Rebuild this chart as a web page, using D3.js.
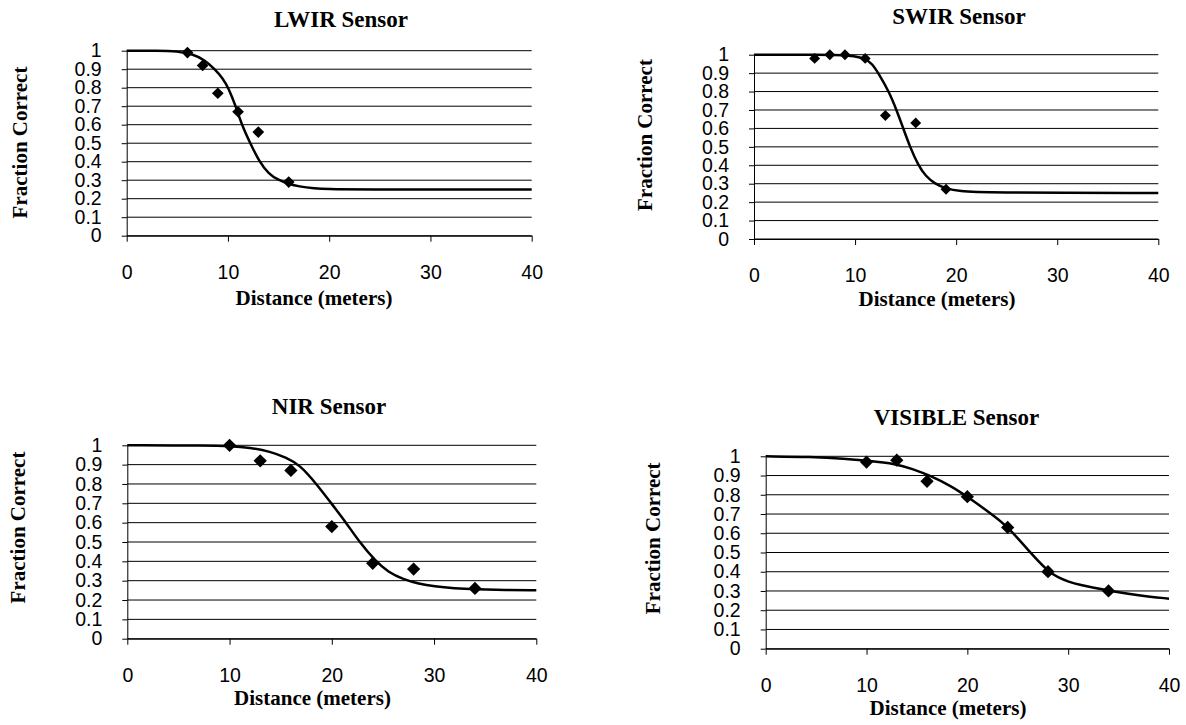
<!DOCTYPE html>
<html>
<head>
<meta charset="utf-8">
<script src="https://cdn.jsdelivr.net/npm/d3@7"></script>
<style>
  body { margin: 0; background: #fff; }
  text { fill: #000; }
</style>
</head>
<body>
<svg id="chart" width="1186" height="725"></svg>
<script>
// ---- data ----
const xTicks = [0, 10, 20, 30, 40];
const yTicks = [0, 0.1, 0.2, 0.3, 0.4, 0.5, 0.6, 0.7, 0.8, 0.9, 1];
const yTickLabels = ['0', '0.1', '0.2', '0.3', '0.4', '0.5', '0.6', '0.7', '0.8', '0.9', '1'];

const titles = ['LWIR Sensor', 'SWIR Sensor', 'NIR Sensor', 'VISIBLE Sensor'];
const xTitle = 'Distance (meters)';
const yTitle = 'Fraction Correct';

// measured points
const lwirX = [6, 7.5, 9, 11, 13, 16];
const lwirY = [0.99, 0.92, 0.77, 0.67, 0.56, 0.29];
const swirX = [6, 7.5, 9, 11, 13, 16, 19];
const swirY = [0.98, 1.0, 1.0, 0.98, 0.67, 0.63, 0.27];
const nirX = [10, 13, 16, 20, 24, 28, 34];
const nirY = [1.0, 0.92, 0.87, 0.58, 0.39, 0.36, 0.26];
const visX = [10, 13, 16, 20, 24, 28, 34];
const visY = [0.97, 0.98, 0.87, 0.79, 0.63, 0.40, 0.30];

// fitted curves
const lwirFitX = [0, 3, 5, 6.5, 7.7, 8.7, 9.5, 10.04, 10.77, 11.36, 12.2, 13.1, 14, 15, 16, 17, 18.5, 20, 22, 40];
const lwirFitY = [1.0, 1.0, 0.997, 0.982, 0.95, 0.9, 0.85, 0.8, 0.7, 0.6, 0.5, 0.4, 0.335, 0.30, 0.28, 0.266, 0.256, 0.252, 0.25, 0.25];
const swirFitX = [0, 7, 9, 9.8, 11, 11.7, 12.3, 13.35, 14.1, 14.77, 15.43, 16.25, 17, 17.9, 19, 20.4, 22.4, 40];
const swirFitY = [1.0, 1.0, 0.998, 0.993, 0.98, 0.95, 0.9, 0.8, 0.7, 0.6, 0.5, 0.4, 0.34, 0.3, 0.272, 0.259, 0.251, 0.25];
const nirFitX = [0, 8, 10, 12, 14, 15.5, 16.85, 18.5, 19.95, 21.4, 22.7, 24.3, 25.5, 27, 28.5, 30, 32, 34, 37, 40];
const nirFitY = [1.0, 0.999, 0.996, 0.988, 0.968, 0.937, 0.9, 0.8, 0.7, 0.6, 0.5, 0.4, 0.345, 0.307, 0.284, 0.27, 0.26, 0.255, 0.251, 0.25];
const visFitX = [0, 4.5, 7.9, 10, 13, 14.5, 16.3, 18.4, 20, 22.4, 24, 26, 28, 29, 30, 31.3, 32.5, 34, 37, 40];
const visFitY = [1.0, 0.997, 0.988, 0.978, 0.96, 0.935, 0.9, 0.845, 0.79, 0.7, 0.635, 0.514, 0.401, 0.37, 0.348, 0.33, 0.317, 0.302, 0.277, 0.26];

// ---- layout of the four panels ----
const panels = [
  { title: titles[0], px: lwirX, py: lwirY, fx: lwirFitX, fy: lwirFitY,
    left: 126.7, right: 531.7, top: 50.7, bottom: 235.7, mark: 69,
    titleX: 341, titleY: 27, xLabX: 314, xLabY: 305, yLabX: 26.5, yLabY: 142.5 },
  { title: titles[1], px: swirX, py: swirY, fx: swirFitX, fy: swirFitY,
    left: 754, right: 1158.3, top: 54.7, bottom: 239, mark: 60,
    titleX: 959, titleY: 24, xLabX: 937, xLabY: 306, yLabX: 652, yLabY: 135 },
  { title: titles[2], px: nirX, py: nirY, fx: nirFitX, fy: nirFitY,
    left: 127.3, right: 536.3, top: 445.3, bottom: 638.7, mark: 88,
    titleX: 329, titleY: 414, xLabX: 312.5, xLabY: 705, yLabX: 25, yLabY: 527.5 },
  { title: titles[3], px: visX, py: visY, fx: visFitX, fy: visFitY,
    left: 765.7, right: 1169, top: 456.3, bottom: 648.7, mark: 88,
    titleX: 956.5, titleY: 425, xLabX: 948, xLabY: 715, yLabX: 659.5, yLabY: 538.3 }
];

const svg = d3.select('#chart');
const serif = '"Liberation Serif", "Times New Roman", serif';
const sans = '"Liberation Sans", Arial, sans-serif';

function dibujar(p) {
  const x = d3.scaleLinear().domain([0, 40]).range([p.left, p.right]);
  const y = d3.scaleLinear().domain([0, 1]).range([p.bottom, p.top]);
  const g = svg.append('g');

  // horizontal gridlines
  g.append('g').selectAll('line')
    .data(yTicks)
    .join('line')
    .attr('x1', x(0))
    .attr('x2', x(40))
    .attr('y1', d => y(d))
    .attr('y2', d => y(d))
    .attr('stroke', '#000')
    .attr('stroke-width', 1);

  // y axis
  const yAxis = d3.axisLeft(y)
    .tickValues(yTicks)
    .tickFormat((d, i) => yTickLabels[i])
    .tickSize(5)
    .tickSizeOuter(0)
    .tickPadding(20);
  const gy = g.append('g')
    .attr('transform', 'translate(' + x(0) + ',0)')
    .call(yAxis);

  // x axis
  const xAxis = d3.axisBottom(x)
    .tickValues(xTicks)
    .tickFormat(d3.format('d'))
    .tickSize(6)
    .tickSizeOuter(0)
    .tickPadding(23);
  const gx = g.append('g')
    .attr('transform', 'translate(0,' + y(0) + ')')
    .call(xAxis);

  [gx, gy].forEach(a => {
    a.attr('font-family', sans).attr('font-size', 19.5);
    a.selectAll('path, line').attr('stroke', '#000');
    a.selectAll('text').attr('fill', '#000');
  });

  // fitted curve
  const fit = p.fx.map((v, i) => [v, p.fy[i]]);
  g.append('path')
    .datum(fit)
    .attr('fill', 'none')
    .attr('stroke', '#000')
    .attr('stroke-width', 2.5)
    .attr('d', d3.line().x(d => x(d[0])).y(d => y(d[1])).curve(d3.curveBasis));

  // diamonds
  const pts = p.px.map((v, i) => [v, p.py[i]]);
  g.append('g').selectAll('path')
    .data(pts)
    .join('path')
    .attr('d', d3.symbol(d3.symbolSquare, p.mark))
    .attr('transform', d => 'translate(' + x(d[0]) + ',' + y(d[1]) + ') rotate(45)')
    .attr('fill', '#000');

  // titles
  g.append('text')
    .attr('x', p.titleX).attr('y', p.titleY)
    .attr('text-anchor', 'middle')
    .attr('font-family', serif).attr('font-weight', 'bold').attr('font-size', 23)
    .text(p.title);

  g.append('text')
    .attr('x', p.xLabX).attr('y', p.xLabY)
    .attr('text-anchor', 'middle')
    .attr('font-family', serif).attr('font-weight', 'bold').attr('font-size', 21)
    .text(xTitle);

  g.append('text')
    .attr('transform', 'translate(' + p.yLabX + ',' + p.yLabY + ') rotate(-90)')
    .attr('text-anchor', 'middle')
    .attr('font-family', serif).attr('font-weight', 'bold').attr('font-size', 21)
    .text(yTitle);
}

panels.forEach(dibujar);
</script>
</body>
</html>
